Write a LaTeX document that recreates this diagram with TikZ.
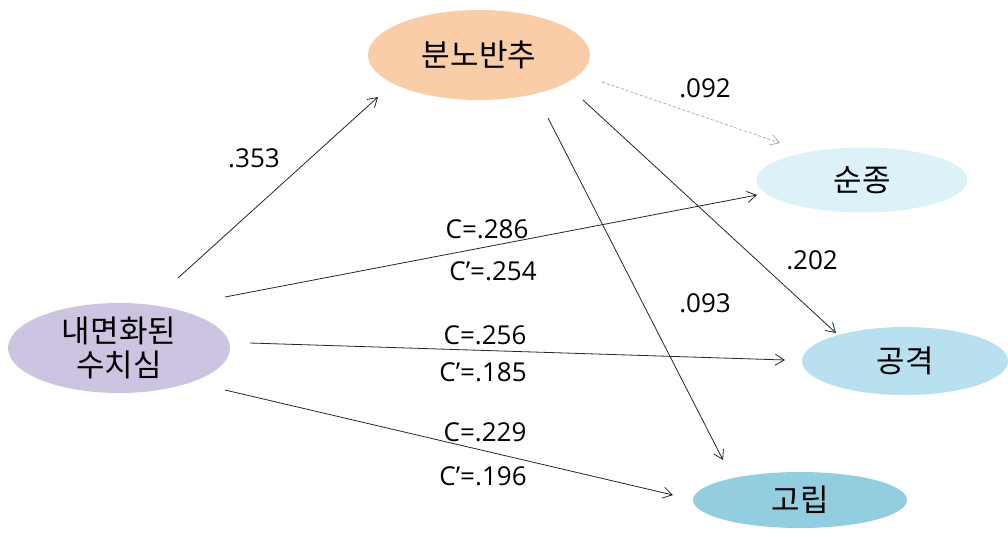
\documentclass[tikz,border=0pt]{standalone}
\usepackage{fontspec}
\setmainfont{Open Sans}
\newfontfamily\kr{Noto Sans CJK KR}
\usetikzlibrary{arrows.meta,shapes.geometric}
\definecolor{cPeach}{HTML}{F9CDA8}
\definecolor{cLav}{HTML}{CCC4E0}
\definecolor{cPale}{HTML}{DDF1F9}
\definecolor{cMid}{HTML}{B8E0EE}
\definecolor{cDeep}{HTML}{93CDE0}
\definecolor{cLine}{HTML}{262626}
\tikzset{
  var/.style={ellipse, inner sep=0pt, font=\kr\fontsize{31}{36}\selectfont, text=black, align=center},
  path/.style={draw=cLine, line width=0.8pt, -{Straight Barb[length=9pt,width=11pt]}},
  weak/.style={draw=gray!70, line width=0.7pt, dash pattern=on 3pt off 2pt, -{Straight Barb[length=9pt,width=11pt]}},
  lab/.style={font=\fontsize{26}{31}\selectfont, text=black, inner sep=0pt}
}
\begin{document}
\begin{tikzpicture}[x=1pt,y=-1pt]
\useasboundingbox[fill=white] (0,0) rectangle (1008,536);
\node[var, fill=cPeach, minimum width=222pt, minimum height=90pt] (rum) at (479,55) {분노반추};
\node[var, fill=cLav, minimum width=222pt, minimum height=90pt] (sha) at (119,348) {내면화된\\[-2pt]수치심};
\node[var, fill=cPale, minimum width=211pt, minimum height=65pt] (sub) at (862,180) {순종};
\node[var, fill=cMid, minimum width=206pt, minimum height=68pt] (agg) at (905,361) {공격};
\node[var, fill=cDeep, minimum width=214pt, minimum height=56pt] (iso) at (800,500) {고립};

\coordinate (a1) at (178,278); \coordinate (b1) at (378,97);
\coordinate (a2) at (602,82);  \coordinate (b2) at (780,143);
\coordinate (a3) at (583,100); \coordinate (b3) at (836,333);
\coordinate (a4) at (548,118); \coordinate (b4) at (723,460);
\coordinate (a5) at (225,297); \coordinate (b5) at (757,195);
\coordinate (a6) at (250,343); \coordinate (b6) at (785,360);
\coordinate (a7) at (225,390); \coordinate (b7) at (673,495);

\draw[path] (a1) -- (b1);
\draw[weak] (a2) -- (b2);
\draw[path] (a3) -- (b3);
\draw[path] (a4) -- (b4);
\draw[path] (a5) -- (b5);
\draw[path] (a6) -- (b6);
\draw[path] (a7) -- (b7);

\node[lab] (l1) at (254,158) {.353};
\node[lab] (l2) at (705,88) {.092};
\node[lab] (l3) at (812,260) {.202};
\node[lab] (l4) at (705,303) {.093};
\node[lab] (l5) at (487,229) {C=.286};
\node[lab] (l6) at (493,271) {C’=.254};
\node[lab] (l7) at (485,335) {C=.256};
\node[lab] (l8) at (483,372) {C’=.185};
\node[lab] (l9) at (485,432) {C=.229};
\node[lab] (l10) at (483,476) {C’=.196};
\end{tikzpicture}
\end{document}
